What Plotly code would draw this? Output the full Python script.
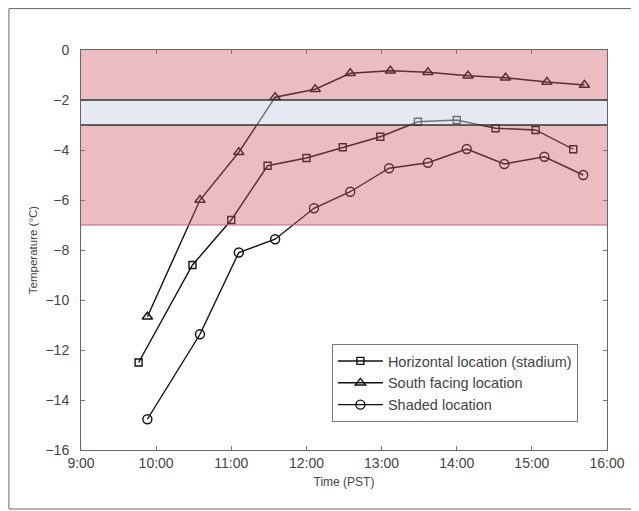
import plotly.graph_objects as go

# ---- data ----
horiz_times = ["9:46", "10:29", "11:00", "11:29", "12:00", "12:29", "12:59",
               "13:29", "14:00", "14:31", "15:03", "15:33"]
horiz_temp = [-12.5, -8.6, -6.8, -4.63, -4.32, -3.89, -3.47, -2.87, -2.8,
              -3.13, -3.2, -3.97]

south_times = ["9:53", "10:35", "11:06", "11:35", "12:07", "12:35", "13:07",
               "13:37", "14:09", "14:39", "15:12", "15:42"]
south_temp = [-10.67, -6.0, -4.09, -1.89, -1.57, -0.93, -0.83, -0.89, -1.03,
              -1.11, -1.28, -1.4]

shade_times = ["9:53", "10:35", "11:06", "11:35", "12:06", "12:35", "13:06",
               "13:37", "14:08", "14:38", "15:10", "15:41"]
shade_temp = [-14.77, -11.37, -8.1, -7.57, -6.33, -5.67, -4.73, -4.51, -3.96,
              -4.56, -4.27, -5.0]

x_tick_labels = ["9:00", "10:00", "11:00", "12:00", "13:00", "14:00", "15:00", "16:00"]
y_ticks = [0, -2, -4, -6, -8, -10, -12, -14, -16]

pink_band = (-7, 0)
gray_band = (-3, -2)


def to_hours(t):
    h, m = t.split(":")
    return int(h) + int(m) / 60.0


x_tick_vals = [to_hours(t) for t in x_tick_labels]

fig = go.Figure()
series = [
    ("Horizontal location (stadium)", horiz_times, horiz_temp, "square-open", 7),
    ("South facing location", south_times, south_temp, "triangle-up-open", 9),
    ("Shaded location", shade_times, shade_temp, "circle-open", 9),
]
for name, times, temps, sym, size in series:
    fig.add_trace(go.Scatter(
        x=[to_hours(t) for t in times], y=temps, name=name,
        mode="lines+markers",
        line=dict(color="#111111", width=1.4),
        marker=dict(symbol=sym, size=size, color="#111111",
                    line=dict(width=1.4, color="#111111")),
    ))

shapes = [
    # pink zones (drawn over the data, translucent)
    dict(type="rect", xref="x", yref="y", x0=9, x1=16, y0=gray_band[1], y1=pink_band[1],
         fillcolor="rgb(205,90,100)", opacity=0.4, line_width=0, layer="above"),
    dict(type="rect", xref="x", yref="y", x0=9, x1=16, y0=pink_band[0], y1=gray_band[0],
         fillcolor="rgb(205,90,100)", opacity=0.4, line_width=0, layer="above"),
    # gray zone
    dict(type="rect", xref="x", yref="y", x0=9, x1=16, y0=gray_band[0], y1=gray_band[1],
         fillcolor="rgb(205,212,228)", opacity=0.5, line_width=0, layer="above"),
    # borders
    dict(type="line", xref="x", yref="y", x0=9, x1=16, y0=pink_band[0], y1=pink_band[0],
         line=dict(color="rgb(195,105,115)", width=1.2), layer="above"),
    dict(type="line", xref="x", yref="y", x0=9, x1=16, y0=gray_band[0], y1=gray_band[0],
         line=dict(color="#333333", width=1.6), layer="above"),
    dict(type="line", xref="x", yref="y", x0=9, x1=16, y0=gray_band[1], y1=gray_band[1],
         line=dict(color="#333333", width=1.6), layer="above"),
    # outer frame of the figure: left, top and bottom edges (right edge lies off the image)
    dict(type="line", xref="paper", yref="paper", x0=-0.137, x1=-0.137, y0=-0.1475, y1=1.1035,
         line=dict(color="#666666", width=1), layer="below"),
    dict(type="line", xref="paper", yref="paper", x0=-0.137, x1=1.5, y0=1.1035, y1=1.1035,
         line=dict(color="#666666", width=1), layer="below"),
    dict(type="line", xref="paper", yref="paper", x0=-0.137, x1=1.5, y0=-0.1475, y1=-0.1475,
         line=dict(color="#666666", width=1), layer="below"),
]

fig.update_layout(
    width=639, height=511,
    margin=dict(l=73, r=40, t=42, b=69, autoexpand=False),
    paper_bgcolor="white", plot_bgcolor="white",
    font=dict(family="Liberation Sans, Arial, sans-serif", size=14, color="#444444"),
    shapes=shapes,
    showlegend=True,
    legend=dict(x=0.477, y=0.265, xanchor="left", yanchor="top",
                bgcolor="white", bordercolor="#777777", borderwidth=1,
                font=dict(size=14.5, color="#444444"), tracegroupgap=0,
                itemwidth=45),
    xaxis=dict(range=[9, 16], tickvals=x_tick_vals, ticktext=x_tick_labels,
               ticks="inside", ticklen=4, tickcolor="#777777",
               showline=True, linecolor="#666666", linewidth=1, mirror="ticks",
               showgrid=False, zeroline=False,
               title=dict(text="Time (PST)", standoff=7, font=dict(size=12)),
               tickfont=dict(size=14)),
    yaxis=dict(range=[-16, 0], tickvals=y_ticks,
               ticks="inside", ticklen=4, tickcolor="#777777",
               showline=True, linecolor="#666666", linewidth=1, mirror="ticks",
               showgrid=False, zeroline=False, ticklabelstandoff=8,
               title=dict(text="Temperature (°C)", standoff=5, font=dict(size=11.5)),
               tickfont=dict(size=14)),
)

fig.write_html("out.html")
